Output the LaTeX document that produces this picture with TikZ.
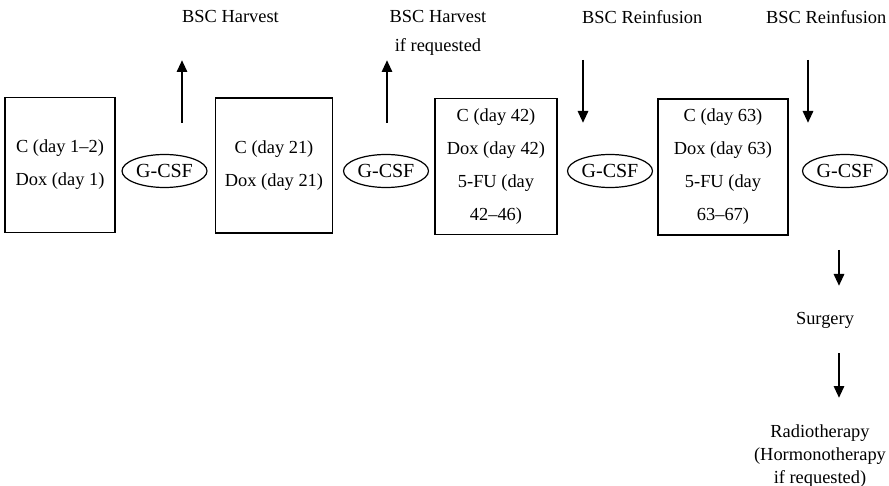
\documentclass[tikz,border=0pt]{standalone}
\usepackage{fontspec}
\setmainfont{Liberation Serif}
\usetikzlibrary{arrows.meta,shapes.geometric}
\begin{document}
\begin{tikzpicture}[x=1pt,y=-1pt,
  every node/.style={font=\fontsize{18.4}{33}\selectfont, inner sep=0pt},
  cycle/.style={draw, line width=1.2pt, align=center},
  gcsf/.style={draw, ellipse, line width=1.2pt, minimum width=85pt, minimum height=33pt,
    font=\fontsize{20}{24}\selectfont},
  label/.style={align=center, font=\fontsize{18.4}{29}\selectfont},
  flow/.style={line width=2.8pt, -{Triangle[length=12pt,width=10pt]}}]
  \useasboundingbox (0,0) rectangle (889,486);

  % chemotherapy cycles
  \node[cycle, minimum width=110pt, minimum height=135pt] (c1) at (60,165) {C (day 1--2)\\Dox (day 1)};
  \node[cycle, minimum width=117pt, minimum height=135pt] (c2) at (274,165.5) {C (day 21)\\Dox (day 21)};
  \node[cycle, minimum width=122pt, minimum height=136pt] (c3) at (496,166.5) {C (day 42)\\Dox (day 42)\\5-FU (day\\42--46)};
  \node[cycle, minimum width=130pt, minimum height=136pt] (c4) at (723,167) {C (day 63)\\Dox (day 63)\\5-FU (day\\63--67)};

  % growth factor support after each cycle
  \node[gcsf] (g1) at (164.5,171) {G-CSF};
  \node[gcsf] (g2) at (386,171) {G-CSF};
  \node[gcsf] (g3) at (610,171) {G-CSF};
  \node[gcsf] (g4) at (845,171) {G-CSF};

  % stem cell labels
  \node[anchor=west] (h1) at (182,17) {BSC Harvest};
  \node[label, anchor=north] (h2) at (438,10) {BSC Harvest\\if requested};
  \node[anchor=west] (r1) at (582,17) {BSC Reinfusion};
  \node[anchor=west] (r2) at (766,17) {BSC Reinfusion};

  \coordinate (h1a) at (182,123);
  \coordinate (h1b) at (182,60);
  \coordinate (h2a) at (387,123);
  \coordinate (h2b) at (387,60);
  \coordinate (r1a) at (583,60);
  \coordinate (r1b) at (583,123);
  \coordinate (r2a) at (808,60);
  \coordinate (r2b) at (808,123);

  \draw[flow] (h1a) -- (h1b);
  \draw[flow] (h2a) -- (h2b);
  \draw[flow] (r1a) -- (r1b);
  \draw[flow] (r2a) -- (r2b);

  % local treatment
  \node (surg) at (825,320) {Surgery};
  \node[label, font=\fontsize{18.4}{23}\selectfont] (radio) at (820,456) {Radiotherapy\\(Hormonotherapy\\if requested)};

  \coordinate (s1a) at (839,250);
  \coordinate (s1b) at (839,286);
  \coordinate (s2a) at (839,353);
  \coordinate (s2b) at (839,398);
  \draw[flow] (s1a) -- (s1b);
  \draw[flow] (s2a) -- (s2b);
\end{tikzpicture}
\end{document}
